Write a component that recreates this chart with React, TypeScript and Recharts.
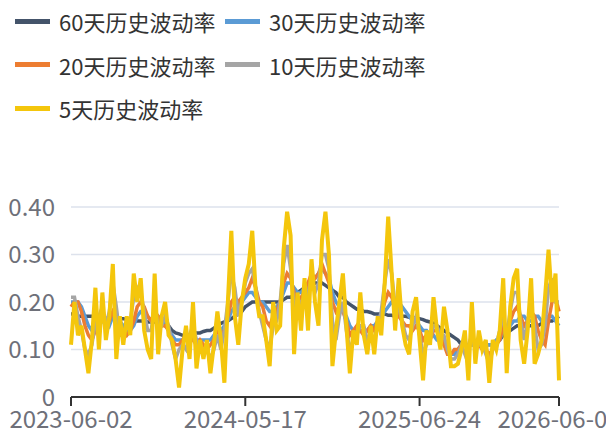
import { CartesianGrid, Line, LineChart, XAxis, YAxis } from "recharts";

// tick dates that show on the axis, and where they sit in the series
const anchorDates = ["2023-06-02", "2024-05-17", "2025-06-24", "2026-06-05"];
const anchorIdx = [0, 50, 100, 140];

const seriesNames = ["60天历史波动率", "30天历史波动率", "20天历史波动率", "10天历史波动率", "5天历史波动率"];
const seriesColors = ["#44546a", "#5b9bd5", "#ed7d31", "#a5a5a5", "#f4c60c"];

const vol60 = [
  0.175, 0.175, 0.17, 0.17, 0.17, 0.17, 0.17, 0.168, 0.168, 0.166,
  0.166, 0.165, 0.165, 0.165, 0.165, 0.165, 0.163, 0.162, 0.16, 0.16,
  0.16, 0.16, 0.158, 0.158, 0.158, 0.158, 0.155, 0.15, 0.15, 0.14,
  0.135, 0.133, 0.13, 0.13, 0.13, 0.132, 0.135, 0.135, 0.138, 0.14,
  0.14, 0.145, 0.15, 0.155, 0.158, 0.16, 0.165, 0.17, 0.175, 0.18,
  0.19, 0.195, 0.2, 0.2, 0.2, 0.2, 0.2, 0.2, 0.2, 0.2,
  0.2, 0.205, 0.21, 0.21, 0.215, 0.22, 0.225, 0.23, 0.23, 0.235,
  0.24, 0.24, 0.24, 0.235, 0.23, 0.225, 0.22, 0.21, 0.21, 0.2,
  0.195, 0.19, 0.185, 0.185, 0.18, 0.18, 0.178, 0.175, 0.175, 0.175,
  0.175, 0.172, 0.172, 0.17, 0.17, 0.17, 0.17, 0.168, 0.168, 0.165,
  0.165, 0.163, 0.16, 0.158, 0.155, 0.15, 0.145, 0.14, 0.135, 0.13,
  0.125, 0.12, 0.11, 0.11, 0.11, 0.11, 0.11, 0.11, 0.11, 0.11,
  0.11, 0.11, 0.115, 0.12, 0.13, 0.135, 0.14, 0.145, 0.15, 0.15,
  0.15, 0.15, 0.15, 0.15, 0.15, 0.155, 0.155, 0.16, 0.16, 0.165,
  0.17,
];

const vol30 = [
  0.2, 0.2, 0.2, 0.19, 0.17, 0.15, 0.14, 0.14, 0.15, 0.16,
  0.16, 0.15, 0.17, 0.17, 0.16, 0.15, 0.14, 0.14, 0.15, 0.17,
  0.18, 0.18, 0.17, 0.16, 0.17, 0.17, 0.16, 0.16, 0.14, 0.13,
  0.12, 0.12, 0.12, 0.13, 0.13, 0.13, 0.12, 0.12, 0.12, 0.12,
  0.12, 0.13, 0.14, 0.14, 0.15, 0.16, 0.18, 0.19, 0.19, 0.2,
  0.21, 0.22, 0.22, 0.21, 0.2, 0.2, 0.19, 0.18, 0.18, 0.19,
  0.2, 0.22, 0.24, 0.24, 0.23, 0.22, 0.22, 0.23, 0.24, 0.25,
  0.25, 0.26, 0.27, 0.26, 0.25, 0.22, 0.2, 0.19, 0.18, 0.17,
  0.15, 0.14, 0.14, 0.14, 0.14, 0.14, 0.15, 0.15, 0.16, 0.17,
  0.18, 0.19, 0.2, 0.2, 0.2, 0.19, 0.18, 0.17, 0.16, 0.16,
  0.15, 0.14, 0.14, 0.13, 0.13, 0.12, 0.12, 0.11, 0.1, 0.09,
  0.09, 0.1, 0.11, 0.11, 0.11, 0.11, 0.11, 0.11, 0.11, 0.11,
  0.11, 0.11, 0.12, 0.12, 0.14, 0.14, 0.15, 0.16, 0.16, 0.17,
  0.17, 0.16, 0.16, 0.17, 0.17, 0.16, 0.16, 0.17, 0.17, 0.16,
  0.15,
];

const vol20 = [
  0.19, 0.2, 0.2, 0.18, 0.15, 0.13, 0.12, 0.14, 0.16, 0.17,
  0.15, 0.16, 0.18, 0.17, 0.15, 0.14, 0.13, 0.14, 0.16, 0.19,
  0.2, 0.19, 0.17, 0.16, 0.18, 0.17, 0.15, 0.15, 0.14, 0.12,
  0.11, 0.11, 0.12, 0.13, 0.13, 0.12, 0.11, 0.12, 0.11, 0.1,
  0.11, 0.12, 0.14, 0.13, 0.14, 0.17, 0.2, 0.21, 0.2, 0.21,
  0.22, 0.23, 0.25, 0.23, 0.2, 0.19, 0.16, 0.15, 0.17, 0.18,
  0.2, 0.24, 0.26, 0.25, 0.22, 0.2, 0.21, 0.22, 0.24, 0.26,
  0.25, 0.26, 0.28, 0.26, 0.24, 0.2, 0.18, 0.19, 0.18, 0.16,
  0.13, 0.14, 0.15, 0.14, 0.13, 0.14, 0.15, 0.14, 0.16, 0.17,
  0.2, 0.22, 0.21, 0.19, 0.17, 0.16, 0.15, 0.15, 0.14, 0.15,
  0.14, 0.12, 0.13, 0.12, 0.14, 0.14, 0.13, 0.11, 0.09, 0.09,
  0.1, 0.1, 0.11, 0.11, 0.1, 0.12, 0.11, 0.11, 0.1, 0.1,
  0.09, 0.1, 0.11, 0.12, 0.15, 0.14, 0.16, 0.18, 0.19, 0.17,
  0.15, 0.16, 0.18, 0.17, 0.14, 0.12, 0.11, 0.16, 0.2, 0.21,
  0.18,
];

const vol10 = [
  0.21, 0.21, 0.17, 0.14, 0.1, 0.09, 0.11, 0.16, 0.17, 0.19,
  0.15, 0.18, 0.24, 0.19, 0.13, 0.13, 0.15, 0.16, 0.21, 0.23,
  0.22, 0.18, 0.14, 0.14, 0.19, 0.15, 0.15, 0.17, 0.15, 0.11,
  0.08, 0.1, 0.11, 0.1, 0.13, 0.15, 0.12, 0.1, 0.1, 0.1,
  0.08, 0.1, 0.13, 0.1, 0.14, 0.2, 0.26, 0.23, 0.17, 0.2,
  0.24, 0.26, 0.27, 0.23, 0.18, 0.15, 0.12, 0.1, 0.15, 0.16,
  0.2, 0.28, 0.32, 0.27, 0.19, 0.18, 0.2, 0.21, 0.22, 0.25,
  0.22, 0.24, 0.3, 0.3, 0.27, 0.16, 0.12, 0.17, 0.2, 0.14,
  0.1, 0.12, 0.13, 0.15, 0.15, 0.12, 0.13, 0.12, 0.15, 0.18,
  0.24, 0.29, 0.26, 0.19, 0.19, 0.16, 0.13, 0.12, 0.15, 0.17,
  0.13, 0.09, 0.11, 0.12, 0.15, 0.15, 0.13, 0.13, 0.1, 0.08,
  0.08, 0.09, 0.11, 0.09, 0.11, 0.13, 0.1, 0.11, 0.11, 0.09,
  0.07, 0.1, 0.11, 0.14, 0.17, 0.13, 0.18, 0.22, 0.22, 0.16,
  0.12, 0.16, 0.19, 0.15, 0.1, 0.11, 0.15, 0.23, 0.25, 0.2,
  0.2,
];

const vol5 = [
  0.11, 0.2, 0.13, 0.15, 0.1, 0.05, 0.12, 0.23, 0.1, 0.22,
  0.12, 0.17, 0.28, 0.08, 0.17, 0.11, 0.17, 0.13, 0.26, 0.2,
  0.25, 0.14, 0.1, 0.08, 0.26, 0.09, 0.17, 0.2, 0.13, 0.12,
  0.08, 0.02, 0.1, 0.15, 0.08, 0.2, 0.06, 0.12, 0.08, 0.12,
  0.05, 0.11, 0.18, 0.12, 0.03, 0.2, 0.35, 0.17, 0.11, 0.2,
  0.25, 0.28, 0.35, 0.22, 0.17, 0.17, 0.12, 0.065, 0.2, 0.14,
  0.15, 0.31, 0.39, 0.34, 0.09, 0.22, 0.14, 0.25, 0.14, 0.29,
  0.2, 0.15, 0.33, 0.39, 0.3, 0.065, 0.14, 0.2, 0.26, 0.15,
  0.05, 0.14, 0.11, 0.22, 0.13, 0.09, 0.15, 0.09, 0.17, 0.13,
  0.24, 0.38, 0.26, 0.14, 0.25, 0.15, 0.11, 0.09, 0.18, 0.21,
  0.12, 0.035, 0.14, 0.11, 0.21, 0.14, 0.1, 0.19, 0.14, 0.065,
  0.065, 0.07, 0.1, 0.14, 0.035, 0.2, 0.07, 0.14, 0.1, 0.12,
  0.03, 0.12, 0.1, 0.14, 0.25, 0.05, 0.19, 0.25, 0.27, 0.12,
  0.07, 0.14, 0.25, 0.07, 0.09, 0.12, 0.21, 0.31, 0.2, 0.26,
  0.035,
];

const yTicks = [0, 0.1, 0.2, 0.3, 0.4];

const DAY = 86400000;
function buildDates(): string[] {
  const out: string[] = [];
  for (let s = 0; s < anchorIdx.length - 1; s++) {
    const a = Date.parse(anchorDates[s]);
    const b = Date.parse(anchorDates[s + 1]);
    const n = anchorIdx[s + 1] - anchorIdx[s];
    for (let k = 0; k < n; k++) {
      const t = a + Math.round(((b - a) / DAY) * (k / n)) * DAY;
      out.push(new Date(t).toISOString().slice(0, 10));
    }
  }
  out.push(anchorDates[anchorDates.length - 1]);
  return out;
}

const dates = buildDates();
const allSeries = [vol60, vol30, vol20, vol10, vol5];
const data = dates.map((d, i) => {
  const row: Record<string, string | number> = { date: d };
  seriesNames.forEach((name, s) => {
    row[name] = allSeries[s][i];
  });
  return row;
});

const FONT = '"Noto Sans CJK SC", "Noto Sans", sans-serif';

export default function App() {
  return (
    <div
      style={{
        position: "absolute",
        left: 0,
        top: 0,
        width: 606,
        height: 437,
        background: "#fff",
        fontFamily: FONT,
        overflow: "hidden",
      }}
    >
      {seriesNames.map((name, i) => (
        <div
          key={name}
          style={{
            position: "absolute",
            left: 15 + (i % 2) * 210,
            top: 21 + Math.floor(i / 2) * 43.5 - 16,
            height: 32,
            display: "flex",
            alignItems: "center",
            fontSize: 22,
            color: "#333",
            whiteSpace: "nowrap",
          }}
        >
          <span
            style={{
              display: "inline-block",
              width: 35,
              height: 5,
              background: seriesColors[i],
              marginRight: 9,
            }}
          />
          {name}
        </div>
      ))}
      <LineChart
        width={606}
        height={437}
        data={data}
        margin={{ top: 207, right: 47, bottom: 0, left: 0 }}
        style={{ position: "absolute", left: 0, top: 0 }}
      >
        <CartesianGrid vertical={false} stroke="#dde2ec" strokeWidth={1.5} />
        <XAxis
          dataKey="date"
          ticks={anchorIdx.map((i) => dates[i])}
          interval={0}
          height={40}
          tickSize={9}
          tickMargin={5}
          axisLine={{ stroke: "#333", strokeWidth: 2 }}
          tickLine={{ stroke: "#333", strokeWidth: 2 }}
          tick={{ fill: "#6e7079", fontSize: 24, fontFamily: FONT }}
        />
        <YAxis
          width={71}
          domain={[0, 0.4]}
          ticks={yTicks}
          axisLine={false}
          tickLine={false}
          tickSize={0}
          tickMargin={16}
          tickFormatter={(v: number) => (v === 0 ? "0" : v.toFixed(2))}
          tick={{ fill: "#6e7079", fontSize: 24, fontFamily: FONT }}
        />
        {seriesNames.map((name, i) => (
          <Line
            key={name}
            type="linear"
            dataKey={name}
            stroke={seriesColors[i]}
            strokeWidth={i === 4 ? 4 : 3.5}
            dot={false}
            activeDot={false}
            isAnimationActive={false}
          />
        ))}
      </LineChart>
    </div>
  );
}
